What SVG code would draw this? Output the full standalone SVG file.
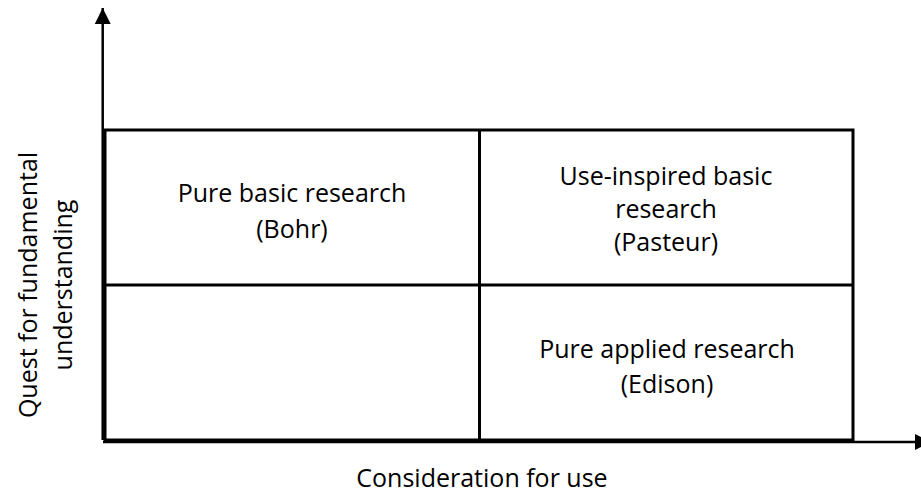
<svg xmlns="http://www.w3.org/2000/svg" width="921" height="495" viewBox="0 0 921 495">
  <style>
    .lbl { font-family: "Open Sans", "Liberation Sans", sans-serif; font-size: 25px; fill: #000; text-anchor: middle; }
    .grid { fill: none; stroke: #000; stroke-width: 3; }
    .axis { fill: none; stroke: #000; stroke-width: 2.5; }
  </style>
  <defs>
    <marker id="arrow" viewBox="0 0 16 16" refX="16" refY="8" markerWidth="16" markerHeight="16" markerUnits="userSpaceOnUse" orient="auto">
      <path d="M0,0 L16,8 L0,16 Z" fill="#000"/>
    </marker>
  </defs>
  <rect width="921" height="495" fill="#fff"/>

  <!-- quadrant grid -->
  <g id="grid">
    <rect class="grid" x="105" y="130" width="748" height="310"/>
    <line class="grid" x1="479.5" y1="130" x2="479.5" y2="440"/>
    <line class="grid" x1="105" y1="285" x2="853" y2="285" stroke-width="2.2"/>
  </g>

  <!-- axes -->
  <g id="connectors">
    <line class="axis" x1="102.7" y1="440" x2="102.7" y2="8" marker-end="url(#arrow)"/>
    <line class="axis" x1="103" y1="442" x2="931" y2="442" marker-end="url(#arrow)"/>
  </g>

  <g id="pure-basic">
    <text class="lbl" x="292" y="202">Pure basic research</text>
    <text class="lbl" x="292" y="238">(Bohr)</text>
  </g>

  <g id="use-inspired">
    <text class="lbl" x="666" y="185">Use-inspired basic</text>
    <text class="lbl" x="666" y="218">research</text>
    <text class="lbl" x="666" y="251">(Pasteur)</text>
  </g>

  <g id="pure-applied">
    <text class="lbl" x="667" y="358">Pure applied research</text>
    <text class="lbl" x="667" y="393">(Edison)</text>
  </g>

  <g id="x-label">
    <text class="lbl" x="482" y="487">Consideration for use</text>
  </g>

  <g id="y-label">
    <text class="lbl" transform="translate(37,285) rotate(-90)">Quest for fundamental</text>
    <text class="lbl" transform="translate(72,285) rotate(-90)">understanding</text>
  </g>
</svg>
